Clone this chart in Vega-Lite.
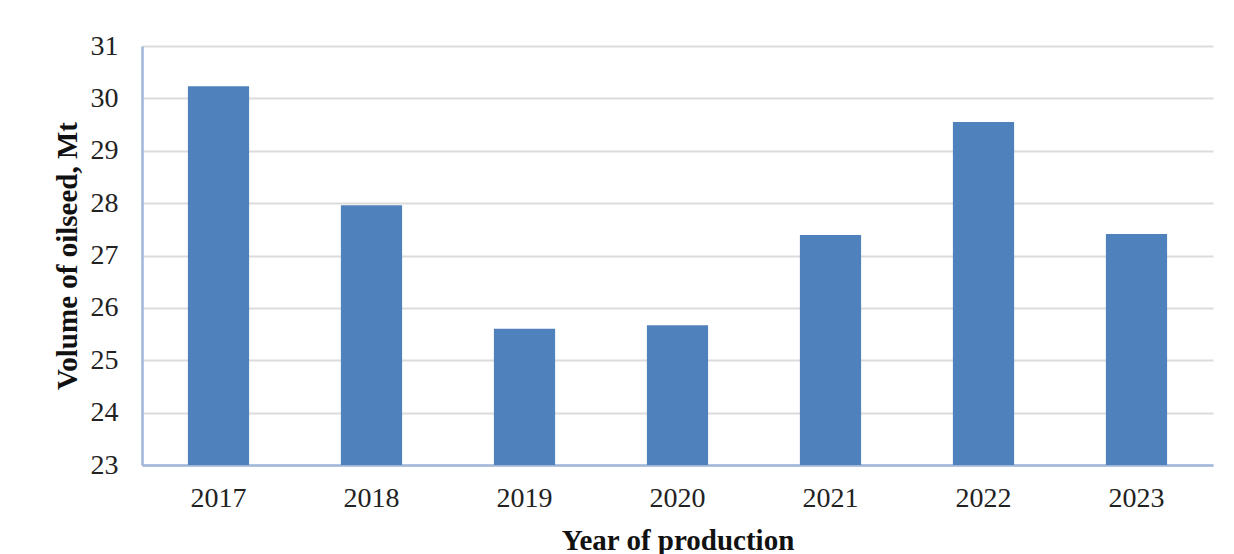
{
  "$schema": "https://vega.github.io/schema/vega-lite/v6.json",
  "autosize": {"type": "none"},
  "padding": {"left": 142, "top": 46, "right": 21, "bottom": 89},
  "width": 1071,
  "height": 419,
  "background": "white",
  "data": {"values": [
    {"year": "2017", "volume": 30.23},
    {"year": "2018", "volume": 27.96},
    {"year": "2019", "volume": 25.6},
    {"year": "2020", "volume": 25.67},
    {"year": "2021", "volume": 27.39},
    {"year": "2022", "volume": 29.55},
    {"year": "2023", "volume": 27.41}
  ]},
  "config": {
    "view": {"stroke": null},
    "font": "Liberation Serif"
  },
  "mark": {"type": "bar", "color": "#4F81BD", "clip": true},
  "encoding": {
    "x": {
      "field": "year", "type": "ordinal",
      "scale": {"paddingInner": 0.6, "paddingOuter": 0.3},
      "axis": {
        "title": "Year of production",
        "titleFont": "Liberation Serif", "titleFontSize": 29, "titleFontWeight": "bold", "titleColor": "#111",
        "titlePadding": 14,
        "labelFont": "Liberation Serif", "labelFontSize": 28, "labelColor": "#222", "labelAngle": 0,
        "labelPadding": 19,
        "ticks": false,
        "domainColor": "#9fb6d8", "domainWidth": 2.5
      }
    },
    "y": {
      "field": "volume", "type": "quantitative",
      "scale": {"domain": [23, 31], "nice": false, "zero": false},
      "axis": {
        "title": "Volume of oilseed, Mt",
        "titleFont": "Liberation Serif", "titleFontSize": 29, "titleFontWeight": "bold", "titleColor": "#111",
        "titlePadding": 8,
        "labelFont": "Liberation Serif", "labelFontSize": 28, "labelColor": "#222",
        "labelPadding": 24,
        "values": [23, 24, 25, 26, 27, 28, 29, 30, 31],
        "ticks": false,
        "grid": true, "gridColor": "#dcdcdc", "gridWidth": 2,
        "domainColor": "#9fb6d8", "domainWidth": 2.5
      }
    }
  }
}
